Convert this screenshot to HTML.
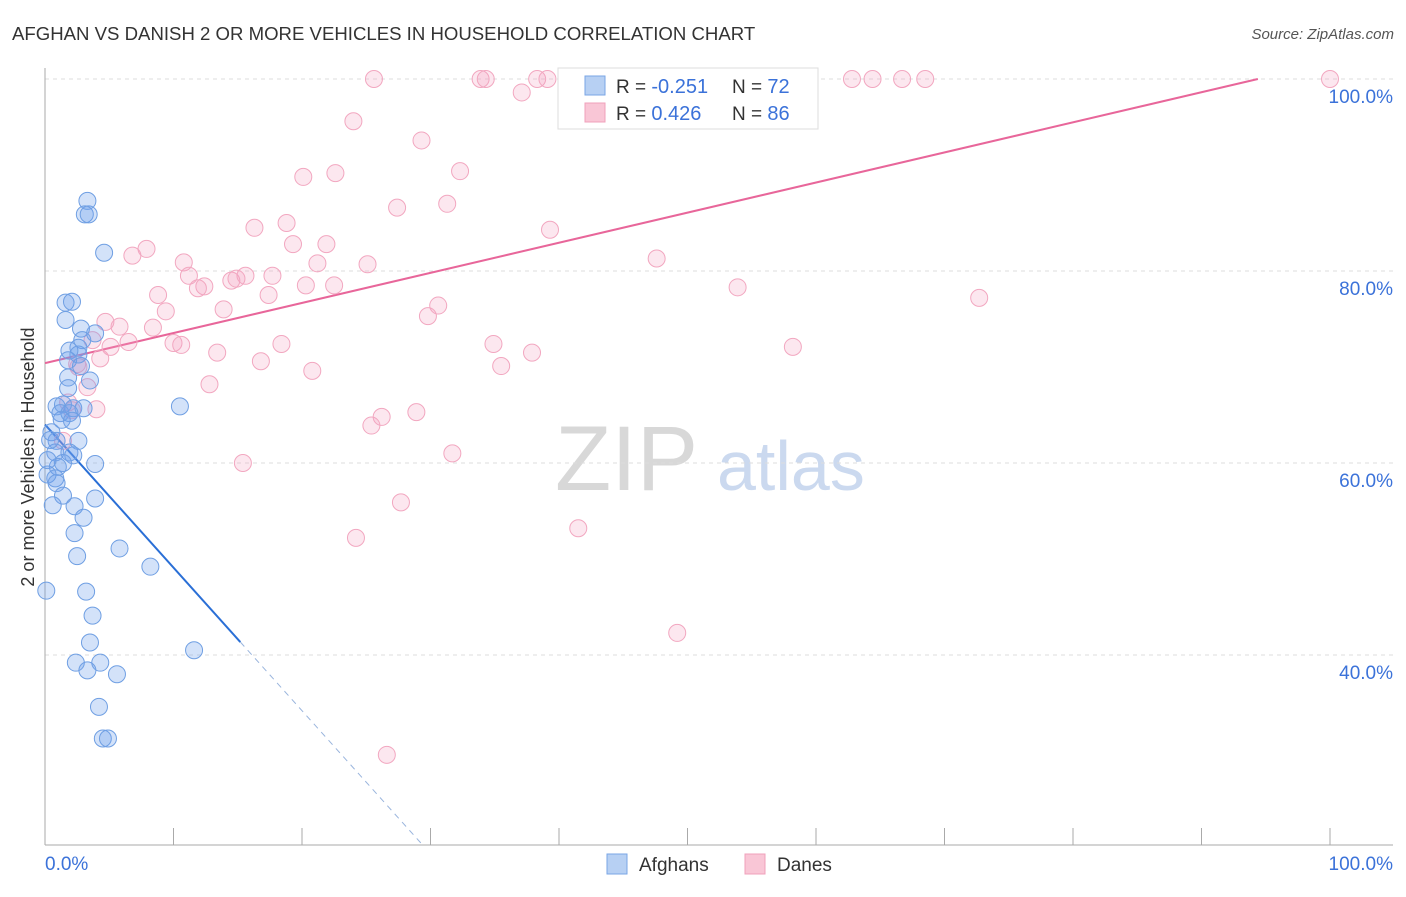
<!DOCTYPE html>
<html><head><meta charset="utf-8"><style>
body{margin:0;background:#fff;font-family:"Liberation Sans",sans-serif}
svg text{font-family:"Liberation Sans",sans-serif}
</style></head><body>
<svg id="chart" width="1406" height="892" viewBox="0 0 1406 892">
<text x="12" y="40" font-size="18.6" fill="#333">AFGHAN VS DANISH 2 OR MORE VEHICLES IN HOUSEHOLD CORRELATION CHART</text>
<text x="1394" y="39" font-size="15" fill="#555" text-anchor="end" font-style="italic">Source: ZipAtlas.com</text>
<g>
<text x="555" y="490" font-size="92" fill="#d8d8d8" font-family="Liberation Serif,serif">ZIP</text>
<text x="717" y="490" font-size="70" fill="#cbd9ef">atlas</text>
</g>
<g id="grid"></g>
<g id="axes"></g>
<g id="trends"></g>
<g id="points"></g>
<text transform="translate(34,457) rotate(-90)" font-size="18" fill="#333" text-anchor="middle">2 or more Vehicles in Household</text>
<g>
<rect x="558" y="68" width="260" height="61" fill="#fff" stroke="#ddd"/>
<rect x="585" y="76" width="20" height="19" fill="#b7d0f3" stroke="#7aa6e6"/>
<rect x="585" y="103" width="20" height="19" fill="#f9c6d6" stroke="#f0a0bb"/>
<text x="616" y="93" font-size="19" fill="#333">R = <tspan fill="#3b72d9" font-size="20">-0.251</tspan></text>
<text x="732" y="93" font-size="19" fill="#333">N = <tspan fill="#3b72d9" font-size="20">72</tspan></text>
<text x="616" y="120" font-size="19" fill="#333">R = <tspan fill="#3b72d9" font-size="20"> 0.426</tspan></text>
<text x="732" y="120" font-size="19" fill="#333">N = <tspan fill="#3b72d9" font-size="20">86</tspan></text>
</g>
<g>
<rect x="607" y="854" width="20" height="20" fill="#b7d0f3" stroke="#7aa6e6"/>
<text x="639" y="871" font-size="19" fill="#333">Afghans</text>
<rect x="745" y="854" width="20" height="20" fill="#f9c6d6" stroke="#f0a0bb"/>
<text x="777" y="871" font-size="19" fill="#333">Danes</text>
</g>
</svg>
<script>
const blueX=[3.3,3.1,3.4,4.6,1.6,2.1,1.6,3.9,2.8,2.9,2.6,1.9,2.6,1.8,2.8,3.5,1.8,1.8,0.9,1.4,2.2,3.0,1.2,1.9,1.3,2.1,0.5,2.6,0.9,0.8,1.9,2.2,3.9,1.4,1.0,0.2,0.8,0.9,1.4,3.9,0.6,2.3,3.0,2.3,5.8,2.5,8.2,3.2,0.1,3.7,3.5,2.4,4.3,3.3,5.6,11.6,4.2,4.5,4.9,10.5,0.4,0.2];
const blueY=[87.3,85.9,85.9,81.9,76.7,76.8,74.9,73.5,74.0,72.8,72.0,71.7,71.3,70.7,70.1,68.6,68.9,67.8,65.9,66.1,65.7,65.7,65.2,65.2,64.5,64.4,63.2,62.3,62.3,61.1,61.1,60.8,59.9,60.0,59.6,58.8,58.4,57.9,56.6,56.3,55.6,55.5,54.3,52.7,51.1,50.3,49.2,46.6,46.7,44.1,41.3,39.2,39.2,38.4,38.0,40.5,34.6,31.3,31.3,65.9,62.4,60.3];
const pinkX=[25.6,33.9,34.3,38.3,39.1,52.2,52.4,62.8,64.4,66.7,68.5,100,37.1,24.0,29.3,32.3,20.1,22.6,27.4,31.3,18.8,16.3,39.3,19.3,21.9,7.9,6.8,10.8,21.2,25.1,47.6,11.2,14.5,15.6,17.7,14.9,12.4,11.9,20.3,22.5,8.8,17.4,53.9,72.7,13.9,9.4,30.6,29.8,4.7,5.8,8.4,6.5,10.0,10.6,5.1,18.4,34.9,58.2,13.4,16.8,37.9,4.3,2.6,35.5,20.8,12.8,3.3,4.0,1.8,2.1,28.9,26.2,25.4,31.7,15.4,27.7,24.2,41.5,49.2,26.6,2.5,3.7,1.4];
const pinkY=[100,100,100,100,100,100,100,100,100,100,100,100,98.6,95.6,93.6,90.4,89.8,90.2,86.6,87.0,85.0,84.5,84.3,82.8,82.8,82.3,81.6,80.9,80.8,80.7,81.3,79.5,79.0,79.5,79.5,79.2,78.4,78.2,78.5,78.5,77.5,77.5,78.3,77.2,76.0,75.8,76.4,75.3,74.7,74.2,74.1,72.6,72.5,72.3,72.1,72.4,72.4,72.1,71.5,70.6,71.5,70.9,70.0,70.1,69.6,68.2,67.9,65.6,66.3,65.5,65.3,64.8,63.9,61.0,60.0,55.9,52.2,53.2,42.3,29.6,70.3,72.8,62.3];
const yTicks=[100,80,60,40];
const yTickLabels=["100.0%","80.0%","60.0%","40.0%"];
const xTicks=[0,10,20,30,40,50,60,70,80,90,100];
const blueTrend=[64.0,-1.49];
const pinkTrend=[70.4,0.3136];
const NS="http://www.w3.org/2000/svg";
const X=v=>45+v*12.85, Y=v=>79+(100-v)*9.6;
function mk(tag,attrs,parent){const e=document.createElementNS(NS,tag);for(const k in attrs)e.setAttribute(k,attrs[k]);document.getElementById(parent).appendChild(e);return e;}
yTicks.forEach((t,i)=>{
 const g=mk('line',{x1:45,x2:1393,y1:Y(t),y2:Y(t),stroke:'#ddd','stroke-dasharray':'4,4'},'grid');
 
 
 const l=mk('text',{x:1393,y:Y(t)+24,'font-size':19,fill:'#3b72d9','text-anchor':'end'},'grid');
 l.textContent=yTickLabels[i];
 
 
});
const ax=mk('line',{x1:45,x2:1393,y1:845,y2:845,stroke:'#aaa'},'axes');


const ay=mk('line',{x1:45,x2:45,y1:68,y2:845,stroke:'#aaa'},'axes');


xTicks.forEach(t=>{const e=mk('line',{x1:X(t),x2:X(t),y1:828,y2:845,stroke:'#aaa'},'axes');
 
 });
let t0=mk('text',{x:45,y:870,'font-size':19,fill:'#3b72d9'},'axes');t0.textContent='0.0%';


let t1=mk('text',{x:1393,y:870,'font-size':19,fill:'#3b72d9','text-anchor':'end'},'axes');t1.textContent='100.0%';


const bEnd=15.2, bBottom=(20.2-blueTrend[0])/blueTrend[1];
let bl=mk('line',{x1:X(0),y1:Y(blueTrend[0]),x2:X(bEnd),y2:Y(blueTrend[0]+blueTrend[1]*bEnd),stroke:'#2a6fd6','stroke-width':2},'trends');


let bd=mk('line',{x1:X(bEnd),y1:Y(blueTrend[0]+blueTrend[1]*bEnd),x2:X(bBottom),y2:Y(20.2),stroke:'#9ab5dd','stroke-width':1,'stroke-dasharray':'6,5'},'trends');


const pEnd=(100-pinkTrend[0])/pinkTrend[1];
let pl=mk('line',{x1:X(0),y1:Y(pinkTrend[0]),x2:X(pEnd),y2:Y(100),stroke:'#e8669a','stroke-width':2},'trends');


pinkX.forEach((x,i)=>{const c=mk('circle',{cx:X(x),cy:Y(pinkY[i]),r:8.5,fill:'rgba(244,160,190,0.25)',stroke:'#f2a7c0','stroke-width':1},'points');
 
 });
blueX.forEach((x,i)=>{const c=mk('circle',{cx:X(x),cy:Y(blueY[i]),r:8.5,fill:'rgba(110,160,235,0.3)',stroke:'#6f9fe3','stroke-width':1},'points');
 
 });
</script>
</body></html>
